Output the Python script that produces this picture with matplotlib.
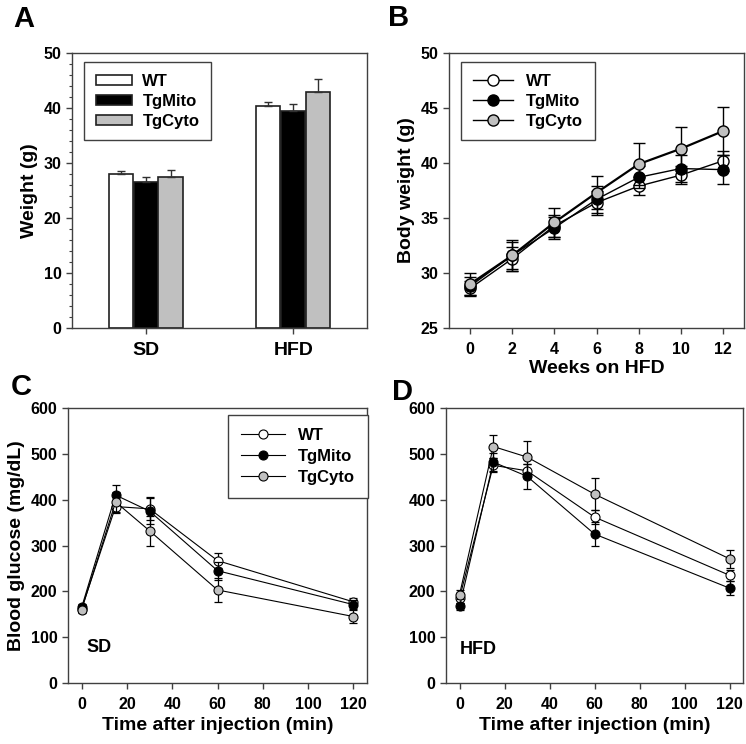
import numpy as np
import matplotlib.pyplot as plt
from matplotlib.ticker import MultipleLocator

plt.rcParams['font.family'] = ['Liberation Sans', 'DejaVu Sans']
plt.rcParams['font.weight'] = 'bold'

# dane
grupy = ['WT', 'TgMito', 'TgCyto']
kolory = ['white', 'black', '#c0c0c0']

diety = ['SD', 'HFD']
waga = {'WT': [28.0, 40.3], 'TgMito': [26.6, 39.5], 'TgCyto': [27.5, 43.0]}
waga_err = {'WT': [0.6, 0.8], 'TgMito': [0.9, 1.3], 'TgCyto': [1.3, 2.2]}

tygodnie = [0, 2, 4, 6, 8, 10, 12]
bw = {'WT': [28.6, 31.3, 34.3, 36.4, 37.9, 38.9, 40.2],
      'TgMito': [28.8, 31.6, 34.1, 36.7, 38.7, 39.5, 39.4],
      'TgCyto': [29.0, 31.6, 34.6, 37.3, 39.9, 41.3, 42.9]}
bw_err = {'WT': [0.7, 1.1, 1.0, 1.1, 0.8, 0.8, 0.9],
          'TgMito': [0.8, 1.2, 1.0, 1.2, 1.0, 1.2, 1.3],
          'TgCyto': [1.0, 1.4, 1.3, 1.5, 1.9, 2.0, 2.2]}

czas = [0, 15, 30, 60, 120]
gtt_sd = {'WT': [162, 385, 380, 267, 177],
          'TgMito': [165, 410, 375, 245, 171],
          'TgCyto': [160, 395, 332, 203, 145]}
gtt_sd_err = {'WT': [8, 15, 25, 17, 8],
              'TgMito': [8, 21, 28, 20, 10],
              'TgCyto': [8, 22, 32, 27, 14]}
gtt_hfd = {'WT': [185, 475, 463, 362, 235],
           'TgMito': [167, 482, 451, 325, 207],
           'TgCyto': [193, 516, 493, 412, 271]}
gtt_hfd_err = {'WT': [10, 15, 15, 15, 12],
               'TgMito': [8, 20, 27, 27, 15],
               'TgCyto': [10, 25, 36, 35, 20]}

ramka = '#404040'
fs_tick = 11.5
fs_lab = 14

fig = plt.figure(figsize=(7.46, 7.44), dpi=100)


def styl(ax):
    for s in ax.spines.values():
        s.set_color(ramka)
        s.set_linewidth(1.0)
    ax.tick_params(direction='out', length=4, width=1, color=ramka,
                   labelsize=fs_tick, top=False, right=False)
    ax.tick_params(which='minor', direction='out', length=2.5, width=0.8, color=ramka)


# A
axA = fig.add_axes([0.0965, 0.5591, 0.3954, 0.3696])
poz = np.arange(len(diety))
szer = 0.163
for i, g in enumerate(grupy):
    x = poz + (i - 1) * (szer + 0.005)
    axA.bar(x, waga[g], szer, color=kolory[i], edgecolor='#202020', linewidth=1.2,
            yerr=[np.zeros(2), waga_err[g]], capsize=3.2,
            error_kw=dict(ecolor='#303030', elinewidth=1, capthick=1), label=g, zorder=2)
axA.set_xlim(-0.5, 1.5)
axA.set_ylim(0, 50)
axA.set_xticks(poz)
axA.set_xticklabels(diety)
axA.yaxis.set_minor_locator(MultipleLocator(2))
axA.set_ylabel('Weight (g)', fontsize=fs_lab, fontweight='bold')
styl(axA)
axA.tick_params(axis='x', labelsize=fs_lab, pad=6)
leg = axA.legend(loc='upper left', bbox_to_anchor=(0.041, 0.967), borderaxespad=0,
                 fancybox=False, edgecolor=ramka, framealpha=1,
                 handlelength=2.2, handleheight=0.55, borderpad=0.7, labelspacing=0.3,
                 handletextpad=0.6, prop={'weight': 'bold', 'size': 12})
leg.get_frame().set_linewidth(1.0)
fig.text(0.018, 0.974, 'A', fontsize=21, fontweight='bold', va='center')

# B
axB = fig.add_axes([0.6019, 0.5591, 0.3954, 0.3696])
lw_b = {'WT': 1.0, 'TgMito': 1.0, 'TgCyto': 1.6}
for i, g in enumerate(grupy):
    axB.errorbar(tygodnie, bw[g], yerr=bw_err[g], fmt='none', ecolor='black',
                 elinewidth=1, capsize=4.5, capthick=1, zorder=2 + i)
    axB.plot(tygodnie, bw[g], '-o', color='black', lw=lw_b[g], markersize=8,
             markerfacecolor=kolory[i], markeredgecolor='black', markeredgewidth=1,
             label=g, zorder=3 + i)
axB.set_xlim(-1, 13)
axB.set_ylim(25, 50)
axB.set_xticks(tygodnie)
axB.set_yticks([25, 30, 35, 40, 45, 50])
axB.set_xlabel('Weeks on HFD', fontsize=fs_lab, fontweight='bold', labelpad=2)
axB.set_ylabel('Body weight (g)', fontsize=fs_lab, fontweight='bold')
styl(axB)
axB.tick_params(axis='x', pad=6)
leg = axB.legend(loc='upper left', bbox_to_anchor=(0.041, 0.967), borderaxespad=0,
                 fancybox=False, edgecolor=ramka, framealpha=1,
                 handlelength=2.4, borderpad=0.7, labelspacing=0.3,
                 prop={'weight': 'bold', 'size': 12})
leg.get_frame().set_linewidth(1.0)
for l in leg.get_lines():
    l.set_linewidth(1.0)
fig.text(0.52, 0.976, 'B', fontsize=21, fontweight='bold', va='center')


def gtt(ax, dane, bledy):
    for i, g in enumerate(grupy):
        ax.errorbar(czas, dane[g], yerr=bledy[g], fmt='none', ecolor='black',
                    elinewidth=0.9, capsize=3, capthick=0.9, zorder=2 + i)
        ax.plot(czas, dane[g], '-o', color='black', lw=0.8, markersize=6.5,
                markerfacecolor=kolory[i], markeredgecolor='black', markeredgewidth=0.8,
                label=g, zorder=3 + i)
    ax.set_xlim(-6, 126)
    ax.set_ylim(0, 600)
    ax.set_xticks([0, 20, 40, 60, 80, 100, 120])
    ax.set_yticks([0, 100, 200, 300, 400, 500, 600])
    ax.set_xlabel('Time after injection (min)', fontsize=fs_lab, fontweight='bold')
    styl(ax)
    ax.tick_params(axis='x', pad=6)


# C
axC = fig.add_axes([0.0912, 0.0820, 0.4008, 0.3696])
gtt(axC, gtt_sd, gtt_sd_err)
axC.set_ylabel('Blood glucose (mg/dL)', fontsize=fs_lab, fontweight='bold')
axC.text(2, 78, 'SD', fontsize=13, fontweight='bold', va='center')
leg = axC.legend(loc='upper left', bbox_to_anchor=(0.535, 0.975), borderaxespad=0,
                 fancybox=False, edgecolor=ramka, framealpha=1,
                 handlelength=2.6, borderpad=0.8, labelspacing=0.35,
                 prop={'weight': 'bold', 'size': 12})
leg.get_frame().set_linewidth(1.0)
fig.text(0.014, 0.48, 'C', fontsize=21, fontweight='bold', va='center')

# D
axD = fig.add_axes([0.5979, 0.0820, 0.3981, 0.3696])
gtt(axD, gtt_hfd, gtt_hfd_err)
axD.text(0, 73, 'HFD', fontsize=13, fontweight='bold', va='center')
fig.text(0.526, 0.473, 'D', fontsize=21, fontweight='bold', va='center')

# pogrubienie etykiet osi po wygenerowaniu ticków
fig.canvas.draw()
for ax in [axA, axB, axC, axD]:
    for t in ax.get_xticklabels() + ax.get_yticklabels():
        t.set_fontweight('bold')

fig.savefig('out.png', dpi=100)
